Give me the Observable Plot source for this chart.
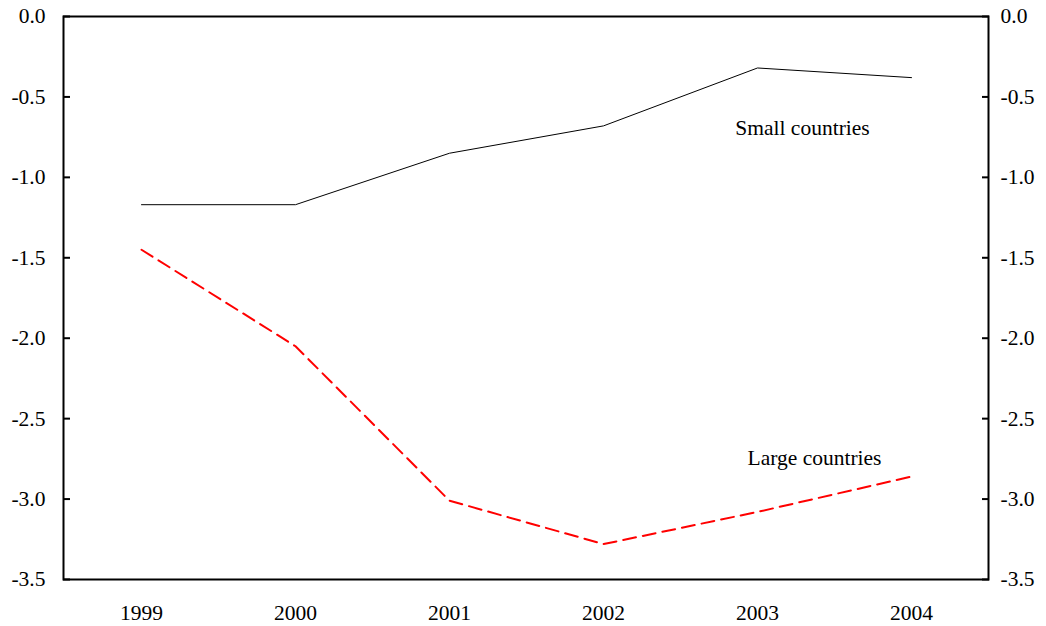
<!DOCTYPE html>
<html>
<head>
<meta charset="utf-8">
<script src="https://cdn.jsdelivr.net/npm/d3@7"></script>
<script src="https://cdn.jsdelivr.net/npm/@observablehq/plot@0.6"></script>
<style>
  html, body { margin: 0; padding: 0; background: #fff; }
  #chart svg { display: block; }
</style>
</head>
<body>
<div id="chart"></div>
<script>
const years = ["1999", "2000", "2001", "2002", "2003", "2004"];
const smallCountries = [-1.17, -1.17, -0.85, -0.68, -0.32, -0.38];
const largeCountries = [-1.45, -2.05, -3.01, -3.28, -3.08, -2.86];
const yTicks = [0, -0.5, -1.0, -1.5, -2.0, -2.5, -3.0, -3.5];
const seriesLabels = ["Small countries", "Large countries"];

const small = years.map((y, i) => ({year: y, value: smallCountries[i]}));
const large = years.map((y, i) => ({year: y, value: largeCountries[i]}));
const fmt = d => d.toFixed(1);

const chart = Plot.plot({
  width: 1046,
  height: 626,
  marginLeft: 63,
  marginRight: 58,
  marginTop: 16,
  marginBottom: 47,
  style: {fontFamily: "'Liberation Serif', 'Times New Roman', serif", fontSize: "21.5px", color: "#000", background: "#fff"},
  x: {type: "point", domain: years, padding: 0.5, label: null},
  y: {domain: [-3.5, 0], label: null},
  marks: [
    Plot.axisY(yTicks, {anchor: "left", tickSize: 7, dx: 7, tickPadding: 18, tickFormat: fmt, strokeWidth: 2, fontSize: 21.5, label: null}),
    Plot.axisY(yTicks, {anchor: "right", tickSize: 7, dx: -7, tickPadding: 12, tickFormat: fmt, strokeWidth: 2, fontSize: 21.5, label: null}),
    Plot.axisX({anchor: "bottom", tickSize: 0, tickPadding: 25, fontSize: 21.5, label: null}),
    Plot.frame({stroke: "#000", strokeWidth: 2}),
    Plot.line(small, {x: "year", y: "value", stroke: "#000", strokeWidth: 1}),
    Plot.line(large, {x: "year", y: "value", stroke: "#ff0000", strokeWidth: 2, strokeDasharray: "13,7"}),
    Plot.text([small[4]], {x: "year", y: "value", text: () => seriesLabels[0], dx: 45, dy: 60, fontSize: 21.5}),
    Plot.text([large[4]], {x: "year", y: "value", text: () => seriesLabels[1], dx: 57, dy: -54, fontSize: 21.5})
  ]
});
document.getElementById("chart").appendChild(chart);
</script>
</body>
</html>
